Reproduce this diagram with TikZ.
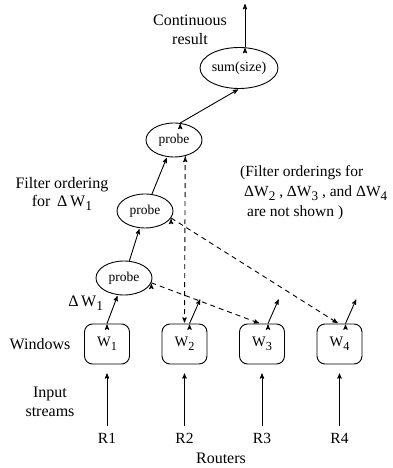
\documentclass[tikz,border=0pt]{standalone}
\usepackage{fontspec}
\setmainfont{Liberation Serif}
\usetikzlibrary{shapes,arrows,positioning}
\newcommand{\dn}[1]{\raisebox{-0.55ex}{\scalebox{0.85}{#1}}}
\tikzset{%
probenode/.style={ellipse, draw, line width=0.9pt, minimum width=56pt, minimum height=34pt, inner sep=0pt, font=\fontsize{13.5}{15}\selectfont},
sumnode/.style={probenode, minimum width=78pt, minimum height=41pt, font=\fontsize{14}{16}\selectfont},
winnode/.style={rectangle, rounded corners=8pt, draw, line width=0.9pt, minimum width=45pt, minimum height=40pt, inner sep=0pt, font=\fontsize{14.5}{16}\selectfont},
lbl/.style={font=\fontsize{16}{18.5}\selectfont, inner sep=0pt},
rlbl/.style={font=\fontsize{15.5}{17}\selectfont, inner sep=3pt},
pt/.style={draw, line width=0.9pt, ->, >=stealth', shorten >=1pt},
dsh/.style={pt, dash pattern=on 5pt off 4pt}
}
\begin{document}
\begin{tikzpicture}[node distance=77.5pt]
		\useasboundingbox (0,0) rectangle (393pt,468pt);
		\node[winnode] (w1) at (107pt,124pt) {W\dn{1}};
		\node[winnode] (w2) [right of=w1] {W\dn{2}};
		\node[winnode] (w3) [right of=w2] {W\dn{3}};
		\node[winnode] (w4) [right of=w3] {W\dn{4}};
		\node[rlbl] (r1) [below of=w1, node distance=94pt] {R1};
		\node[rlbl] (r2) [below of=w2, node distance=94pt] {R2};
		\node[rlbl] (r3) [below of=w3, node distance=94pt] {R3};
		\node[rlbl] (r4) [below of=w4, node distance=94pt] {R4};
		\node[probenode] (p1) [above of=w1, node distance=66pt, xshift=17pt] {probe};
		\node[probenode] (p2) [above of=p1, node distance=67pt, xshift=21pt] {probe};
		\node[probenode] (p3) [above of=p2, node distance=71pt, xshift=29pt] {probe};
		\node[sumnode] (sum) [above of=p3, node distance=72pt, xshift=65pt] {sum(size)};
		\coordinate[above=44pt of sum.north, xshift=6pt] (out);
		\coordinate[above right=25pt and 11pt of w2.north, xshift=5pt] (o2);
		\coordinate[above right=25pt and 11pt of w3.north, xshift=6pt] (o3);
		\coordinate[above right=25pt and 11pt of w4.north, xshift=6pt] (o4);

		\node[lbl, left=13.5pt of w1] (windows) {Windows};
		\node[lbl, align=center] (input) at (50pt,66pt) {Input\\streams};
		\node[lbl] (routers) at (221pt,10pt) {Routers};
		\node[lbl, align=center] (contlbl) at (190pt,438pt) {Continuous\\result};
		\node[lbl, align=center] (filt) at (62pt,274pt) {Filter ordering\\for \,Δ\,W\dn{1}};
		\node[lbl, font=\fontsize{15.5}{20}\selectfont, align=left, anchor=west] (note) at (240pt,275pt)
			{(Filter orderings for\\\hspace*{4pt}ΔW\dn{2} , ΔW\dn{3} , and ΔW\dn{4}\\\hspace*{7pt}are not shown )};

		\path[pt] (r1) edge [shorten <=4pt, shorten >=9pt] (w1);
		\path[pt] (r2) edge [shorten <=4pt, shorten >=9pt] (w2);
		\path[pt] (r3) edge [shorten <=4pt, shorten >=9pt] (w3);
		\path[pt] (r4) edge [shorten <=4pt, shorten >=9pt] (w4);
		\path[pt] (w1.north) edge node [lbl, pos=0.7, left=11pt] {Δ\,W\dn{1}} (p1.-110);
		\path[pt] ([xshift=5pt]w2.north) edge (o2);
		\path[pt] ([xshift=6pt]w3.north) edge (o3);
		\path[pt] ([xshift=6pt]w4.north) edge (o4);
		\path[pt] (p1) edge (p2);
		\path[pt] (p2) edge (p3);
		\path[pt] (p3.70) edge (sum.south);
		\path[pt] ([xshift=6pt]sum.north) edge (out);
		\path[dsh] (p3.-55) edge (w2.north);
		\path[dsh] (p1.-10) edge ([xshift=-2pt]w3.north);
		\path[dsh] (p2.-15) edge ([xshift=-1pt]w4.north);
	\end{tikzpicture}
\end{document}
